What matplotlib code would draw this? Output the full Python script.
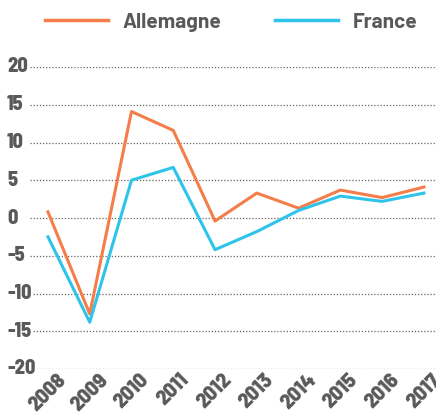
import matplotlib as mpl
mpl.use('Agg')
import matplotlib.pyplot as plt
import logging
logging.getLogger('matplotlib.font_manager').setLevel(logging.ERROR)

years = ['2008', '2009', '2010', '2011', '2012', '2013', '2014', '2015', '2016', '2017']
allemagne = [0.8, -12.7, 14.1, 11.6, -0.4, 3.3, 1.3, 3.7, 2.7, 4.1]
france = [-2.5, -13.8, 5.0, 6.7, -4.2, -1.8, 1.0, 2.9, 2.2, 3.3]
yticks = [-20, -15, -10, -5, 0, 5, 10, 15, 20]

orange = '#F47D4A'
blue = '#2EC4EA'
grey = '#58595B'
narrow = ['Barlow Semi Condensed', 'Roboto Condensed', 'DejaVu Sans']
wide = ['Barlow', 'Roboto', 'DejaVu Sans']

fig = plt.figure(figsize=(4.36, 4.16), dpi=100)
# axes box in pixels: x 30..436, y 67..369
ax = fig.add_axes([30 / 436, 1 - 369 / 416, 406 / 436, 302 / 416])

x = list(range(len(years)))
ax.plot(x, allemagne, color=orange, lw=2.2, label='Allemagne', clip_on=False)
ax.plot(x, france, color=blue, lw=2.2, label='France', clip_on=False)

ax.set_xlim(-0.43, 9.29)
ax.set_ylim(-20, 20)

# dotted grid lines
for v in yticks:
    ax.axhline(v, color='#666666', lw=0.9, ls=(0, (1, 1.5)), zorder=0)

for s in ax.spines.values():
    s.set_visible(False)

ax.set_yticks(yticks)
ax.set_yticklabels([])
ax.tick_params(axis='y', length=0)
# y labels left-aligned at the figure edge, white box hides the grid start
for v in yticks:
    yf = 1 - (369 - (v + 20) * 302 / 40) / 416
    fig.text(7 / 436, yf, str(v), fontsize=14.5, fontweight=800, color=grey,
             family=narrow, ha='left', va='center',
             bbox=dict(facecolor='white', edgecolor='none', pad=0.5))

ax.set_xticks(x)
ax.set_xticklabels(years, rotation=45, ha='center', fontsize=15.5, fontweight=800,
                   color=grey, family=narrow)
ax.tick_params(axis='x', length=0, pad=1)

leg = ax.legend(loc='center', bbox_to_anchor=(0.53, 1 - 22 / 416),
                bbox_transform=fig.transFigure, ncol=2, frameon=False,
                handlelength=3.0, columnspacing=2.6, handletextpad=0.7,
                prop=dict(family=wide, weight='bold', size=15))
for t in leg.get_texts():
    t.set_color(grey)
for h in leg.get_lines():
    h.set_linewidth(2.5)

fig.savefig('out.png', dpi=100)
